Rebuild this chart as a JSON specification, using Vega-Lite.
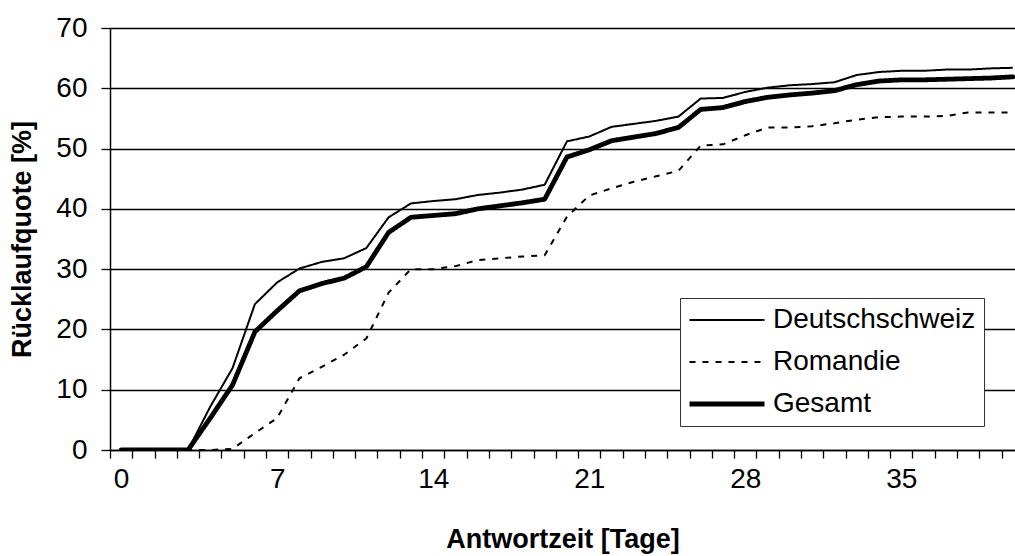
{
  "$schema": "https://vega.github.io/schema/vega-lite/v6.json",
  "autosize": {"type": "none"},
  "width": 905,
  "height": 422,
  "padding": {"left": 110, "top": 28, "right": 0, "bottom": 106},
  "background": "white",
  "config": {
    "font": "Liberation Sans",
    "view": {"stroke": null},
    "axis": {"labelFont": "Liberation Sans", "titleFont": "Liberation Sans", "labelColor": "black", "titleColor": "black", "domainColor": "black", "tickColor": "black", "domainWidth": 1.5, "tickWidth": 1.3},
    "legend": {
      "title": null, "orient": "none", "legendX": 570, "legendY": 270,
      "fillColor": "white", "strokeColor": "#333", "padding": 8,
      "labelFontSize": 28, "labelColor": "black", "labelFont": "Liberation Sans", "labelLimit": 400,
      "symbolType": "M-1,0H5", "symbolSize": 625, "symbolStrokeColor": "black", "symbolFillColor": "transparent",
      "labelOffset": 57, "rowPadding": 14
    }
  },
  "data": {"values": [
    {"tag":0,"gruppe":"Deutschschweiz","quote":0},{"tag":1,"gruppe":"Deutschschweiz","quote":0},{"tag":2,"gruppe":"Deutschschweiz","quote":0},{"tag":3,"gruppe":"Deutschschweiz","quote":0},{"tag":4,"gruppe":"Deutschschweiz","quote":7.2},{"tag":5,"gruppe":"Deutschschweiz","quote":13.6},{"tag":6,"gruppe":"Deutschschweiz","quote":24.2},{"tag":7,"gruppe":"Deutschschweiz","quote":27.8},{"tag":8,"gruppe":"Deutschschweiz","quote":30.1},{"tag":9,"gruppe":"Deutschschweiz","quote":31.2},{"tag":10,"gruppe":"Deutschschweiz","quote":31.8},{"tag":11,"gruppe":"Deutschschweiz","quote":33.5},{"tag":12,"gruppe":"Deutschschweiz","quote":38.6},{"tag":13,"gruppe":"Deutschschweiz","quote":40.9},{"tag":14,"gruppe":"Deutschschweiz","quote":41.3},{"tag":15,"gruppe":"Deutschschweiz","quote":41.6},{"tag":16,"gruppe":"Deutschschweiz","quote":42.3},{"tag":17,"gruppe":"Deutschschweiz","quote":42.7},{"tag":18,"gruppe":"Deutschschweiz","quote":43.2},{"tag":19,"gruppe":"Deutschschweiz","quote":44.0},{"tag":20,"gruppe":"Deutschschweiz","quote":51.2},{"tag":21,"gruppe":"Deutschschweiz","quote":52.0},{"tag":22,"gruppe":"Deutschschweiz","quote":53.6},{"tag":23,"gruppe":"Deutschschweiz","quote":54.1},{"tag":24,"gruppe":"Deutschschweiz","quote":54.6},{"tag":25,"gruppe":"Deutschschweiz","quote":55.3},{"tag":26,"gruppe":"Deutschschweiz","quote":58.3},{"tag":27,"gruppe":"Deutschschweiz","quote":58.4},{"tag":28,"gruppe":"Deutschschweiz","quote":59.4},{"tag":29,"gruppe":"Deutschschweiz","quote":60.1},{"tag":30,"gruppe":"Deutschschweiz","quote":60.5},{"tag":31,"gruppe":"Deutschschweiz","quote":60.7},{"tag":32,"gruppe":"Deutschschweiz","quote":61.0},{"tag":33,"gruppe":"Deutschschweiz","quote":62.2},{"tag":34,"gruppe":"Deutschschweiz","quote":62.7},{"tag":35,"gruppe":"Deutschschweiz","quote":62.9},{"tag":36,"gruppe":"Deutschschweiz","quote":62.9},{"tag":37,"gruppe":"Deutschschweiz","quote":63.1},{"tag":38,"gruppe":"Deutschschweiz","quote":63.1},{"tag":39,"gruppe":"Deutschschweiz","quote":63.3},{"tag":40,"gruppe":"Deutschschweiz","quote":63.4},
    {"tag":0,"gruppe":"Romandie","quote":0},{"tag":1,"gruppe":"Romandie","quote":0},{"tag":2,"gruppe":"Romandie","quote":0},{"tag":3,"gruppe":"Romandie","quote":0},{"tag":4,"gruppe":"Romandie","quote":0},{"tag":5,"gruppe":"Romandie","quote":0.2},{"tag":6,"gruppe":"Romandie","quote":2.8},{"tag":7,"gruppe":"Romandie","quote":5.3},{"tag":8,"gruppe":"Romandie","quote":11.9},{"tag":9,"gruppe":"Romandie","quote":13.8},{"tag":10,"gruppe":"Romandie","quote":15.8},{"tag":11,"gruppe":"Romandie","quote":18.5},{"tag":12,"gruppe":"Romandie","quote":26.1},{"tag":13,"gruppe":"Romandie","quote":30.0},{"tag":14,"gruppe":"Romandie","quote":30.0},{"tag":15,"gruppe":"Romandie","quote":30.5},{"tag":16,"gruppe":"Romandie","quote":31.5},{"tag":17,"gruppe":"Romandie","quote":31.8},{"tag":18,"gruppe":"Romandie","quote":32.1},{"tag":19,"gruppe":"Romandie","quote":32.3},{"tag":20,"gruppe":"Romandie","quote":38.7},{"tag":21,"gruppe":"Romandie","quote":42.2},{"tag":22,"gruppe":"Romandie","quote":43.4},{"tag":23,"gruppe":"Romandie","quote":44.5},{"tag":24,"gruppe":"Romandie","quote":45.4},{"tag":25,"gruppe":"Romandie","quote":46.3},{"tag":26,"gruppe":"Romandie","quote":50.5},{"tag":27,"gruppe":"Romandie","quote":50.7},{"tag":28,"gruppe":"Romandie","quote":52.2},{"tag":29,"gruppe":"Romandie","quote":53.5},{"tag":30,"gruppe":"Romandie","quote":53.5},{"tag":31,"gruppe":"Romandie","quote":53.7},{"tag":32,"gruppe":"Romandie","quote":54.2},{"tag":33,"gruppe":"Romandie","quote":54.8},{"tag":34,"gruppe":"Romandie","quote":55.2},{"tag":35,"gruppe":"Romandie","quote":55.3},{"tag":36,"gruppe":"Romandie","quote":55.3},{"tag":37,"gruppe":"Romandie","quote":55.4},{"tag":38,"gruppe":"Romandie","quote":56.0},{"tag":39,"gruppe":"Romandie","quote":56.0},{"tag":40,"gruppe":"Romandie","quote":56.0},
    {"tag":0,"gruppe":"Gesamt","quote":0},{"tag":1,"gruppe":"Gesamt","quote":0},{"tag":2,"gruppe":"Gesamt","quote":0},{"tag":3,"gruppe":"Gesamt","quote":0},{"tag":4,"gruppe":"Gesamt","quote":5.3},{"tag":5,"gruppe":"Gesamt","quote":10.8},{"tag":6,"gruppe":"Gesamt","quote":19.6},{"tag":7,"gruppe":"Gesamt","quote":23.1},{"tag":8,"gruppe":"Gesamt","quote":26.4},{"tag":9,"gruppe":"Gesamt","quote":27.6},{"tag":10,"gruppe":"Gesamt","quote":28.5},{"tag":11,"gruppe":"Gesamt","quote":30.4},{"tag":12,"gruppe":"Gesamt","quote":36.1},{"tag":13,"gruppe":"Gesamt","quote":38.6},{"tag":14,"gruppe":"Gesamt","quote":38.9},{"tag":15,"gruppe":"Gesamt","quote":39.2},{"tag":16,"gruppe":"Gesamt","quote":40.0},{"tag":17,"gruppe":"Gesamt","quote":40.5},{"tag":18,"gruppe":"Gesamt","quote":41.0},{"tag":19,"gruppe":"Gesamt","quote":41.6},{"tag":20,"gruppe":"Gesamt","quote":48.6},{"tag":21,"gruppe":"Gesamt","quote":49.8},{"tag":22,"gruppe":"Gesamt","quote":51.3},{"tag":23,"gruppe":"Gesamt","quote":51.9},{"tag":24,"gruppe":"Gesamt","quote":52.5},{"tag":25,"gruppe":"Gesamt","quote":53.5},{"tag":26,"gruppe":"Gesamt","quote":56.5},{"tag":27,"gruppe":"Gesamt","quote":56.8},{"tag":28,"gruppe":"Gesamt","quote":57.8},{"tag":29,"gruppe":"Gesamt","quote":58.5},{"tag":30,"gruppe":"Gesamt","quote":58.9},{"tag":31,"gruppe":"Gesamt","quote":59.2},{"tag":32,"gruppe":"Gesamt","quote":59.6},{"tag":33,"gruppe":"Gesamt","quote":60.6},{"tag":34,"gruppe":"Gesamt","quote":61.2},{"tag":35,"gruppe":"Gesamt","quote":61.4},{"tag":36,"gruppe":"Gesamt","quote":61.4},{"tag":37,"gruppe":"Gesamt","quote":61.5},{"tag":38,"gruppe":"Gesamt","quote":61.6},{"tag":39,"gruppe":"Gesamt","quote":61.7},{"tag":40,"gruppe":"Gesamt","quote":61.9}
  ]},
  "encoding": {
    "x": {
      "field": "tag", "type": "quantitative",
      "scale": {"domain": [-0.5, 40.1], "nice": false, "zero": false},
      "axis": {
        "title": "Antwortzeit [Tage]",
        "titleFontSize": 27, "titleFontWeight": "bold", "titlePadding": 33,
        "values": [-0.5,0.5,1.5,2.5,3.5,4.5,5.5,6.5,7.5,8.5,9.5,10.5,11.5,12.5,13.5,14.5,15.5,16.5,17.5,18.5,19.5,20.5,21.5,22.5,23.5,24.5,25.5,26.5,27.5,28.5,29.5,30.5,31.5,32.5,33.5,34.5,35.5,36.5,37.5,38.5,39.5],
        "labelExpr": "round(datum.value + 0.5) % 7 === 0 ? format(round(datum.value + 0.5), 'd') : ''",
        "labelOffset": 11.15,
        "labelOverlap": false, "labelFlush": false,
        "labelFontSize": 28, "labelPadding": 7,
        "tickSize": 8, "grid": false
      }
    },
    "y": {
      "field": "quote", "type": "quantitative",
      "scale": {"domain": [0, 70], "nice": false},
      "axis": {
        "title": "Rücklaufquote [%]",
        "titleFontSize": 27, "titleFontWeight": "bold", "titlePadding": 19,
        "values": [0,10,20,30,40,50,60,70],
        "labelFontSize": 28, "labelPadding": 14,
        "tickSize": 9, "grid": true, "gridColor": "black", "gridWidth": 1.3, "gridOpacity": 1
      }
    },
    "strokeDash": {
      "field": "gruppe", "type": "nominal",
      "scale": {"domain": ["Deutschschweiz", "Romandie", "Gesamt"], "range": [[1, 0], [6, 7], [1, 0]]},
      "legend": {
        "encode": {"symbols": {"update": {"strokeWidth": {"signal": "datum.label === 'Gesamt' ? 5 : 2"}}}}
      }
    }
  },
  "layer": [
    {
      "transform": [{"filter": "datum.gruppe !== 'Gesamt'"}],
      "mark": {"type": "line", "color": "black", "strokeWidth": 2, "strokeJoin": "round", "clip": true}
    },
    {
      "transform": [{"filter": "datum.gruppe === 'Gesamt'"}],
      "mark": {"type": "line", "color": "black", "strokeWidth": 4.8, "strokeJoin": "round", "strokeCap": "round", "clip": true}
    }
  ]
}
